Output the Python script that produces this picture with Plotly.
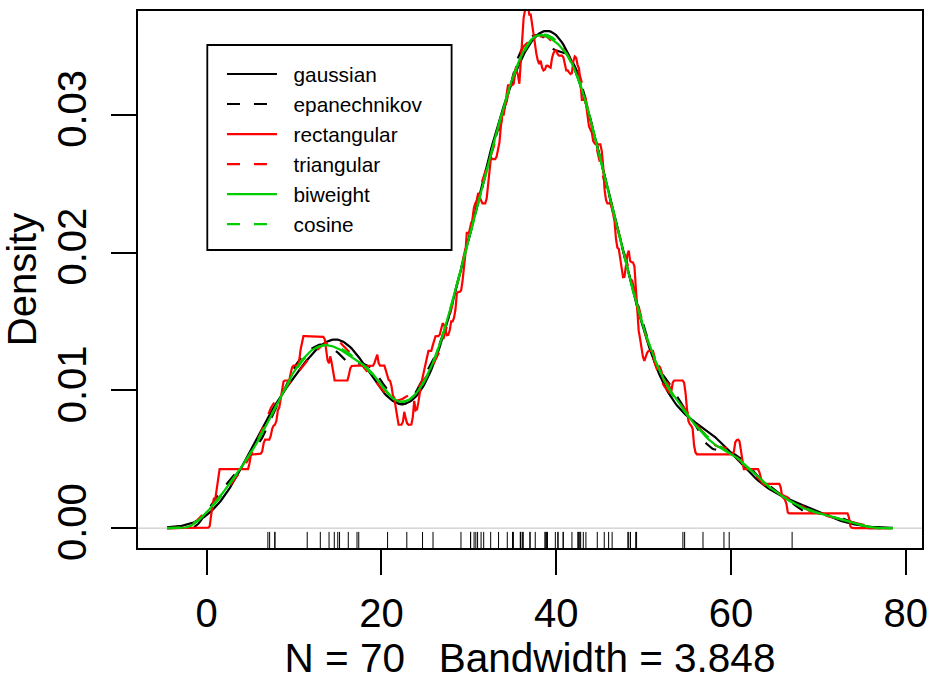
import numpy as np
import plotly.graph_objects as go

# R datasets::precip (70 US cities, inches/yr)
precip = [67.0, 54.7, 7.0, 48.5, 14.0, 17.2, 20.7, 13.0, 43.4, 40.2,
          38.9, 54.5, 59.8, 48.3, 22.9, 11.5, 34.4, 35.1, 38.7, 30.8,
          30.6, 43.1, 56.8, 40.8, 41.8, 42.5, 31.0, 31.7, 30.2, 25.9,
          49.2, 37.0, 35.9, 15.0, 30.2, 7.2, 36.2, 45.5, 7.8, 33.4,
          36.1, 40.2, 42.7, 42.5, 16.2, 39.0, 35.0, 37.0, 31.4, 37.6,
          39.9, 36.2, 42.8, 46.4, 24.7, 49.1, 46.0, 35.9, 7.8, 48.2,
          15.2, 32.5, 44.7, 42.6, 38.8, 17.4, 40.8, 29.1, 14.6, 59.2]

kernels = ["gaussian", "epanechnikov", "rectangular", "triangular", "biweight", "cosine"]
colors = ["#000000", "#000000", "#FF0000", "#FF0000", "#00CD00", "#00CD00"]
dashes = ["solid", "13px,14px", "solid", "13px,14px", "solid", "13px,14px"]
x_ticks = [0, 20, 40, 60, 80]
y_ticks = [0.00, 0.01, 0.02, 0.03]

data = np.array(precip, dtype=float)
N = len(data)

# bw.nrd0
q75, q25 = np.percentile(data, [75, 25])
bw = 0.9 * min(np.std(data, ddof=1), (q75 - q25) / 1.34) * N ** (-0.2)


def r_density(x, bw, kernel, n=512, cut=3):
    frm = x.min() - cut * bw
    to = x.max() + cut * bw
    lo = frm - 4 * bw
    up = to + 4 * bw
    # linear binning (BinDist)
    y = np.zeros(2 * n)
    xdelta = (up - lo) / (n - 1)
    w = 1.0 / len(x)
    for xi in x:
        xpos = (xi - lo) / xdelta
        ix = int(np.floor(xpos))
        fx = xpos - ix
        if 0 <= ix <= n - 2:
            y[ix] += w * (1 - fx)
            y[ix + 1] += w * fx
    k = np.linspace(0, 2 * (up - lo), 2 * n)
    k[n + 1:] = -k[n - 1:0:-1]
    ax = np.abs(k)
    if kernel == "gaussian":
        kv = np.exp(-0.5 * (k / bw) ** 2) / (bw * np.sqrt(2 * np.pi))
    elif kernel == "rectangular":
        a = bw * np.sqrt(3)
        kv = np.where(ax < a, 0.5 / a, 0)
    elif kernel == "triangular":
        a = bw * np.sqrt(6)
        kv = np.where(ax < a, (1 - ax / a) / a, 0)
    elif kernel == "epanechnikov":
        a = bw * np.sqrt(5)
        kv = np.where(ax < a, 0.75 * (1 - (ax / a) ** 2) / a, 0)
    elif kernel == "biweight":
        a = bw * np.sqrt(7)
        kv = np.where(ax < a, 15 / 16 * (1 - (ax / a) ** 2) ** 2 / a, 0)
    else:  # cosine
        a = bw / np.sqrt(1 / 3 - 2 / np.pi ** 2)
        kv = np.where(ax < a, (1 + np.cos(np.pi * k / a)) / (2 * a), 0)
    conv = np.fft.ifft(np.fft.fft(y) * np.conj(np.fft.fft(kv)))
    dens = np.maximum(0, conv.real[:n])
    xords = np.linspace(lo, up, n)
    xs = np.linspace(frm, to, n)
    return xs, np.interp(xs, xords, dens)


curves = [r_density(data, bw, k) for k in kernels]

# axis ranges as R does (4% expansion)
x0, x1 = curves[0][0].min(), curves[0][0].max()
ymax = curves[0][1].max()
xr = [x0 - 0.04 * (x1 - x0), x1 + 0.04 * (x1 - x0)]
yr = [-0.04 * ymax, ymax * 1.04]

FONT = "Liberation Sans, Arial, sans-serif"
fig = go.Figure()

# rug
rx, ry = [], []
rug_top = yr[0] + 0.03 * (yr[1] - yr[0])
for v in precip:
    rx += [v, v, None]
    ry += [yr[0], rug_top, None]
fig.add_trace(go.Scatter(x=rx, y=ry, mode="lines", line=dict(color="black", width=1),
                         showlegend=False, hoverinfo="skip"))

for name, (xs, ys), c, d in zip(kernels, curves, colors, dashes):
    fig.add_trace(go.Scatter(x=xs, y=ys, mode="lines", name="\u00a0\u00a0" + name,
                             line=dict(color=c, width=2.2, dash=d)))

# zero line
fig.add_shape(type="line", xref="x domain", yref="y", x0=0, x1=1, y0=0, y1=0,
              line=dict(color="#BEBEBE", width=1), layer="below")

# legend frame
fig.add_shape(type="rect", xref="paper", yref="paper",
              x0=0.0884, x1=0.400, y0=0.5549, y1=0.9367,
              line=dict(color="black", width=1.8))

title_x = "N = %d\u00a0\u00a0\u00a0Bandwidth = %.4g" % (N, bw)

fig.update_layout(
    width=931, height=681,
    margin=dict(l=138, r=9, t=11, b=133),
    paper_bgcolor="white", plot_bgcolor="white",
    font=dict(family=FONT, color="black"),
    showlegend=True,
    legend=dict(x=0.1071, y=0.92, xanchor="left", yanchor="top",
                bgcolor="rgba(0,0,0,0)", borderwidth=0,
                font=dict(size=20.8, family=FONT), itemwidth=50,
                tracegroupgap=0),
    xaxis=dict(range=xr, tickvals=x_ticks, ticks="outside", ticklen=25, tickwidth=2,
               tickcolor="black", showline=True, linecolor="black", linewidth=2,
               mirror=True, showgrid=False, zeroline=False, automargin=False,
               tickfont=dict(size=40, family=FONT), ticklabelstandoff=4,
               title=dict(text=title_x, font=dict(size=40.5, family=FONT), standoff=12)),
    yaxis=dict(range=yr, tickvals=y_ticks, tickformat=".2f", tickangle=-90,
               ticks="outside", ticklen=25, tickwidth=2,
               tickcolor="black", showline=True, linecolor="black", linewidth=2,
               mirror=True, showgrid=False, zeroline=False, automargin=False,
               tickfont=dict(size=40, family=FONT), ticklabelstandoff=9,
               title=dict(text="Density", font=dict(size=40, family=FONT), standoff=8)),
)

fig.write_html("out.html")
